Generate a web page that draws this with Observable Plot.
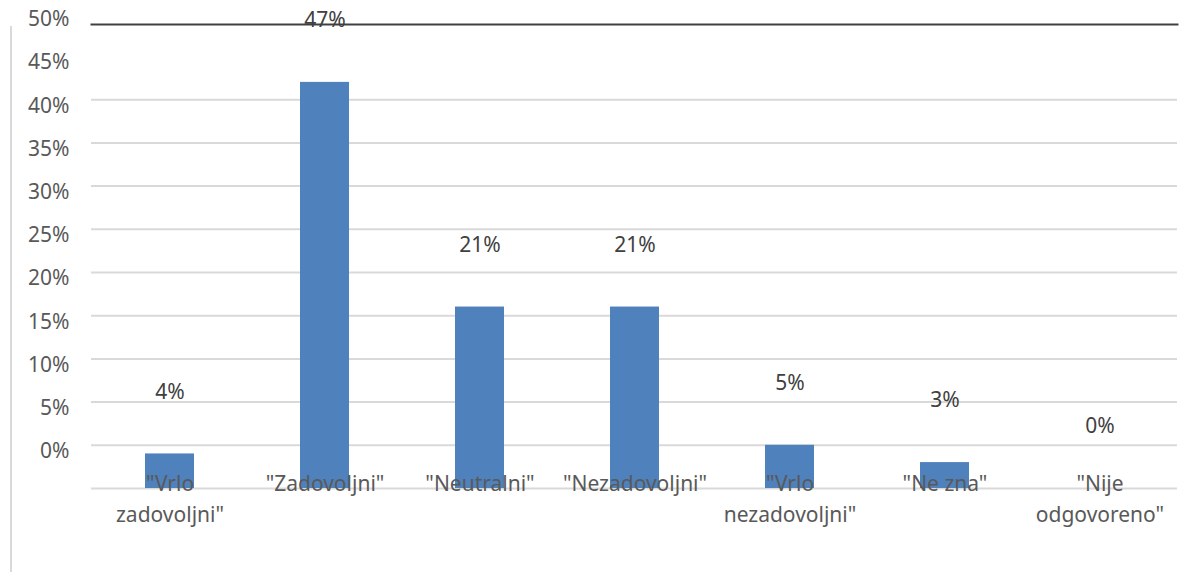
<!DOCTYPE html>
<html>
<head>
<meta charset="utf-8">
<script src="https://cdn.jsdelivr.net/npm/d3@7"></script>
<script src="https://cdn.jsdelivr.net/npm/@observablehq/plot@0.6"></script>
<style>
  html, body { margin: 0; padding: 0; background: #fff; }
  #wrap { position: relative; width: 1195px; height: 572px; overflow: hidden; }
  #edge { position: absolute; left: 10px; top: 26px; width: 2px; height: 546px; background: #d9d9d9; }
  #chart { position: absolute; left: 0; top: 0; }
</style>
</head>
<body>
<div id="wrap"><div id="edge"></div><div id="chart"></div></div>
<script>
const categories = ["Vrlo zadovoljni", "Zadovoljni", "Neutralni", "Nezadovoljni", "Vrlo nezadovoljni", "Ne zna", "Nije odgovoreno"];
const tickLabels = ["\"Vrlo\nzadovoljni\"", "\"Zadovoljni\"", "\"Neutralni\"", "\"Nezadovoljni\"", "\"Vrlo\nnezadovoljni\"", "\"Ne zna\"", "\"Nije\nodgovoreno\""];
const values = [4, 47, 21, 21, 5, 3, 0];
const yTicks = [0, 5, 10, 15, 20, 25, 30, 35, 40, 45, 50];
const gridValues = [0, 5, 10, 15, 20, 25, 30, 35, 40, 45];

const data = categories.map((c, i) => ({cat: c, value: values[i]}));
const labelOf = new Map(categories.map((c, i) => [c, tickLabels[i]]));

const font = "'Noto Sans', 'Open Sans', sans-serif";
const chart = Plot.plot({
  width: 1195,
  height: 572,
  marginLeft: 91,
  marginRight: 18,
  marginTop: 24,
  marginBottom: 84,
  style: {fontFamily: font, fontSize: "21px", color: "#595959", background: "transparent"},
  x: {domain: categories, paddingInner: 0.684, paddingOuter: 0.342, align: 0.5},
  y: {domain: [0, 53.7]},
  marks: [
    Plot.ruleY(gridValues, {stroke: "#d9d9d9", strokeWidth: 2}),
    Plot.frame({anchor: "top", stroke: "#404040", strokeWidth: 2}),
    Plot.barY(data, {x: "cat", y: "value", fill: "#4f81bd"}),
    Plot.axisY({ticks: yTicks, tickSize: 0, tickPadding: 22, dy: -37, tickFormat: d => d + "%", fill: "#595959", fontSize: 21, label: null}),
    Plot.axisX({tickSize: 0, tickPadding: 0, dy: -19, lineHeight: 1.45, tickFormat: d => labelOf.get(d), fill: "#595959", fontSize: 21, label: null}),
    Plot.text(data, {x: "cat", y: "value", text: d => d.value + "%", dy: -62, fill: "#404040", fontSize: 21})
  ]
});
document.getElementById("chart").append(chart);
</script>
</body>
</html>
